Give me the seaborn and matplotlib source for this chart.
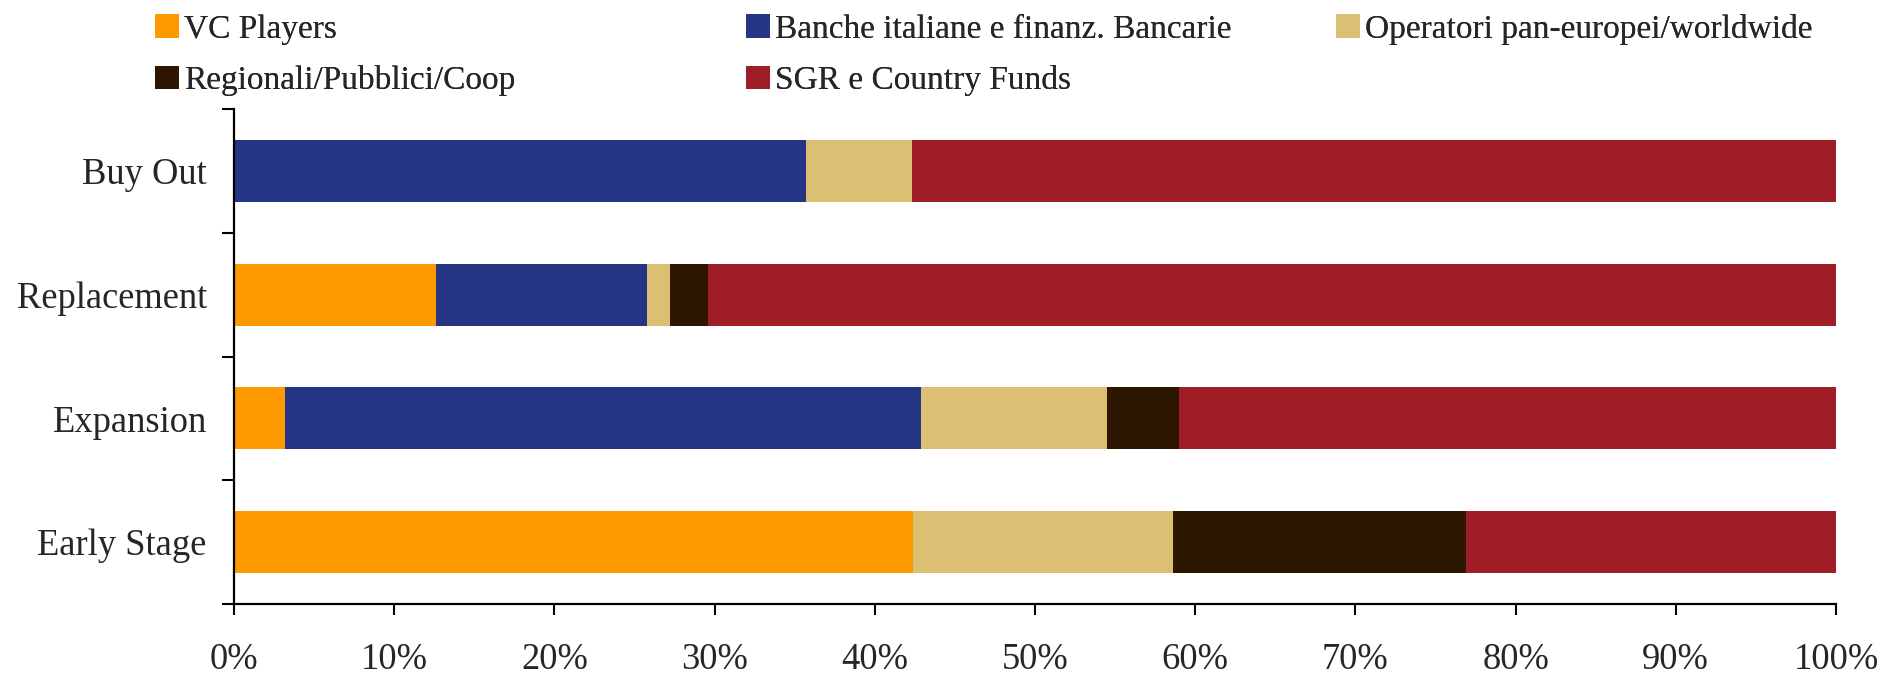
import numpy as np
import pandas as pd
import matplotlib
matplotlib.use("Agg")
import matplotlib.pyplot as plt
import seaborn as sns

categories = ["Buy Out", "Replacement", "Expansion", "Early Stage"]
vc_players = [0.0, 12.6, 3.2, 42.4]
banche = [35.7, 13.2, 39.7, 0.0]
operatori = [6.6, 1.4, 11.6, 16.2]
regionali = [0.0, 2.4, 4.5, 18.3]
sgr = [57.7, 70.4, 41.0, 23.1]

series_names = ["VC Players", "Banche italiane e finanz. Bancarie",
                "Operatori pan-europei/worldwide", "Regionali/Pubblici/Coop",
                "SGR e Country Funds"]
series_values = [vc_players, banche, operatori, regionali, sgr]
colors = ["#FF9900", "#263583", "#DBC073", "#2E1700", "#9F1D27"]
xtick_values = list(range(0, 101, 10))
xtick_labels = [f"{v}%" for v in xtick_values]

sns.set_style("ticks")
plt.rcParams["font.family"] = "serif"
plt.rcParams["font.serif"] = ["Liberation Serif", "Times New Roman", "DejaVu Serif"]
FONT = ["Liberation Serif", "DejaVu Serif"]

fig = plt.figure(figsize=(18.79, 6.78), dpi=100)
ax = fig.add_axes([0.1245, 0.1091, 0.9771 - 0.1245, 0.8392 - 0.1091])

df = pd.DataFrame({name: vals for name, vals in zip(series_names, series_values)},
                  index=categories)
cum = df.cumsum(axis=1)

# draw from the full stack down so each shorter cumulative bar covers the previous
for name, col in reversed(list(zip(series_names, colors))):
    sns.barplot(x=cum[name].values, y=categories, orient="h", color=col,
                width=0.5, saturation=1, linewidth=0, edgecolor="none",
                ax=ax, label=name)

h, l = ax.get_legend_handles_labels()
hmap = dict(zip(l, h))
if ax.get_legend() is not None:
    ax.get_legend().remove()

ax.set_xlim(0, 100)
ax.set_ylim(3.5, -0.5)
ax.set_xticks(xtick_values)
ax.set_xticklabels(xtick_labels, fontsize=26.3, family=FONT)
ax.set_xlabel("")
ax.set_ylabel("")

# boundary ticks (major, unlabeled) + category labels (minor, no tick line)
ax.set_yticks([-0.5, 0.5, 1.5, 2.5, 3.5])
ax.set_yticklabels([])
ax.set_yticks(range(len(categories)), minor=True)
ax.set_yticklabels(categories, minor=True, fontsize=26.3, family=FONT)
ax.tick_params(axis="y", which="major", direction="out", length=8.5, width=1.5, color="black")
ax.tick_params(axis="y", which="minor", length=0, pad=19.5)
ax.tick_params(axis="x", which="major", direction="out", length=8, width=1.5,
               color="black", pad=19.5)

for side in ["top", "right"]:
    ax.spines[side].set_visible(False)
for side in ["left", "bottom"]:
    ax.spines[side].set_color("black")
    ax.spines[side].set_linewidth(1.6)
ax.grid(False)

# legend: three fixed-position columns
columns = [[series_names[0], series_names[3]],
           [series_names[1], series_names[4]],
           [series_names[2]]]
col_x = [155 / 1879, 746 / 1879, 1336 / 1879]
for names, x in zip(columns, col_x):
    leg = fig.legend([hmap[n] for n in names], names, loc="upper left",
                     bbox_to_anchor=(x, 1 - 14 / 678), frameon=False,
                     prop={"family": FONT, "size": 24},
                     handlelength=0.72, handleheight=0.72,
                     handletextpad=0.15, labelspacing=0.62, borderpad=0,
                     borderaxespad=0)
    fig.add_artist(leg)

fig.savefig("out.png", dpi=100)
